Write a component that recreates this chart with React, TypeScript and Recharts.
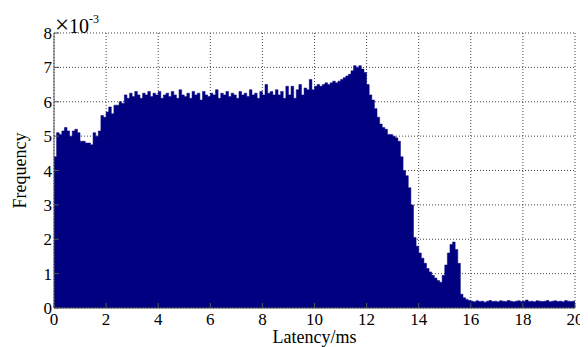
import React from "react";
import { AreaChart, Area, XAxis, YAxis, CartesianGrid } from "recharts";

// Histogram of latency, bin width 0.1 ms, frequency in units of 1e-3
const BIN_WIDTH = 0.1;

const freq0to5 = [
  4.4, 5.1, 5.05, 5.15, 5.25, 5.15, 5.0, 5.15, 5.2, 5.1,
  4.85, 4.85, 4.8, 4.8, 4.75, 5.1, 5.0, 5.15, 5.6, 5.55,
  5.7, 5.85, 5.65, 5.9, 5.9, 6.0, 5.95, 6.2, 6.1, 6.25,
  6.15, 6.3, 6.2, 6.1, 6.25, 6.2, 6.3, 6.15, 6.25, 6.2,
  6.3, 6.1, 6.2, 6.25, 6.15, 6.3, 6.2, 6.1, 6.35, 6.2,
];
const freq5to10 = [
  6.15, 6.25, 6.1, 6.3, 6.2, 6.25, 6.05, 6.3, 6.2, 6.15,
  6.25, 6.2, 6.35, 6.1, 6.25, 6.2, 6.3, 6.15, 6.25, 6.2,
  6.1, 6.3, 6.2, 6.25, 6.15, 6.35, 6.2, 6.25, 6.1, 6.3,
  6.2, 6.5, 6.25, 6.3, 6.2, 6.35, 6.2, 6.3, 6.1, 6.45,
  6.2, 6.45, 6.1, 6.35, 6.5, 6.2, 6.4, 6.35, 6.65, 6.35,
];
const freq10to15 = [
  6.45, 6.5, 6.45, 6.5, 6.55, 6.5, 6.55, 6.6, 6.55, 6.6,
  6.65, 6.7, 6.75, 6.8, 6.9, 7.05, 7.0, 7.05, 6.95, 6.85,
  6.5, 6.2, 6.05, 5.8, 5.55, 5.35, 5.25, 5.2, 5.05, 5.05,
  5.0, 4.95, 4.85, 4.4, 4.0, 3.85, 3.5, 3.0, 2.05, 1.8,
  1.6, 1.45, 1.3, 1.15, 1.05, 0.95, 0.87, 0.8, 0.75, 0.95,
];
const freq15to20 = [
  1.25, 1.6, 1.85, 1.92, 1.7, 1.3, 0.4, 0.3, 0.25, 0.22,
  0.2, 0.18, 0.21, 0.19, 0.2, 0.17, 0.2, 0.22, 0.19, 0.2,
  0.18, 0.21, 0.2, 0.19, 0.22, 0.2, 0.18, 0.2, 0.21, 0.19,
  0.2, 0.23, 0.19, 0.2, 0.18, 0.21, 0.2, 0.19, 0.2, 0.22,
  0.18, 0.2, 0.21, 0.19, 0.2, 0.18, 0.22, 0.2, 0.19, 0.2,
];

const frequency = [...freq0to5, ...freq5to10, ...freq10to15, ...freq15to20];
const latencyTicks = [0, 2, 4, 6, 8, 10, 12, 14, 16, 18, 20];
const frequencyTicks = [0, 1, 2, 3, 4, 5, 6, 7, 8];

const data = frequency.map((f, i) => ({
  latency: Math.round(i * BIN_WIDTH * 10) / 10,
  f,
}));
data.push({ latency: 20, f: frequency[frequency.length - 1] });

const FONT = "Liberation Serif, DejaVu Serif, serif";
const tickStyle = { fontSize: 17, fill: "#000", fontFamily: FONT };
const AXIS = "#555";

export default function App() {
  return (
    <div style={{ position: "relative", width: 580, height: 339, fontFamily: FONT }}>
      <AreaChart
        width={580}
        height={339}
        data={data}
        margin={{ top: 25, right: 13, bottom: 0, left: 0 }}
        style={{ fontFamily: FONT }}
      >
        <CartesianGrid stroke="#444" strokeDasharray="1 2" />
        <XAxis
          dataKey="latency"
          type="number"
          domain={[0, 20]}
          ticks={latencyTicks}
          height={39}
          tickSize={-5}
          tickMargin={10}
          tick={tickStyle}
          stroke={AXIS}
          label={{
            value: "Latency/ms",
            position: "insideBottom",
            offset: 4,
            style: { fontSize: 18, fill: "#000", fontFamily: FONT },
          }}
        />
        <XAxis
          xAxisId="top"
          dataKey="latency"
          type="number"
          orientation="top"
          domain={[0, 20]}
          ticks={latencyTicks}
          height={0}
          tickSize={-5}
          tick={false}
          stroke={AXIS}
        />
        <YAxis
          type="number"
          domain={[0, 8]}
          ticks={frequencyTicks}
          width={46}
          tickSize={-5}
          tickMargin={7}
          tick={tickStyle}
          stroke={AXIS}
          label={{
            value: "Frequency",
            angle: -90,
            position: "insideLeft",
            offset: 12,
            style: { fontSize: 18, fill: "#000", fontFamily: FONT, textAnchor: "middle" },
          }}
        />
        <YAxis
          yAxisId="right"
          type="number"
          orientation="right"
          domain={[0, 8]}
          ticks={frequencyTicks}
          width={0}
          tickSize={-5}
          tick={false}
          stroke={AXIS}
        />
        <Area
          type="stepAfter"
          dataKey="f"
          stroke="#000080"
          strokeWidth={0.5}
          fill="#000080"
          fillOpacity={1}
          dot={false}
          activeDot={false}
          isAnimationActive={false}
        />
      </AreaChart>
      <div
        style={{
          position: "absolute",
          left: 47,
          top: 7,
          fontSize: 20,
          lineHeight: "20px",
          color: "#000",
          whiteSpace: "nowrap",
          fontFamily: FONT,
        }}
      >
        <span style={{ fontSize: 25 }}>×</span>10
        <span style={{ fontSize: 12, position: "relative", top: -10 }}>-3</span>
      </div>
    </div>
  );
}
